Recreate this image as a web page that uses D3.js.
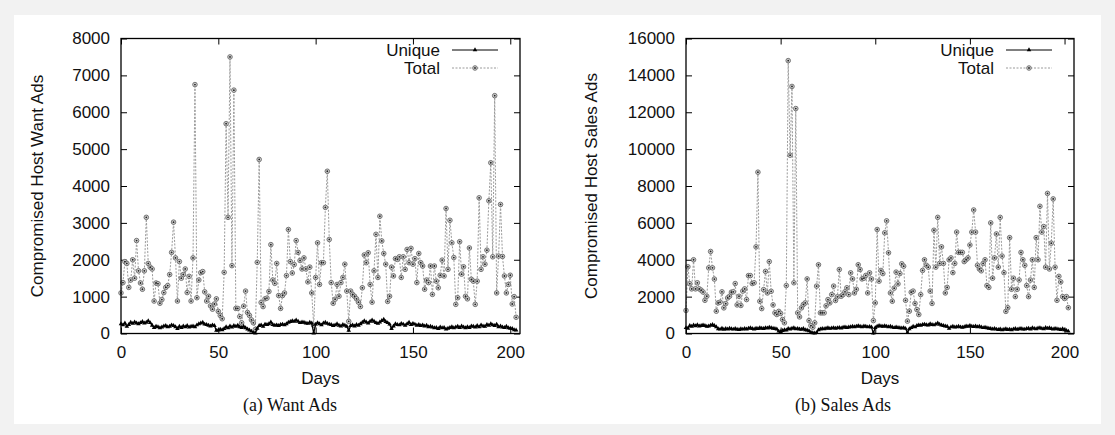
<!DOCTYPE html>
<html>
<head>
<meta charset="utf-8">
<script src="https://cdn.jsdelivr.net/npm/d3@7"></script>
<style>
  html, body { margin: 0; padding: 0; background: #f2f2f2; }
  svg { display: block; }
  text { font-family: "Liberation Sans", Arial, sans-serif; fill: #111; }
  .caption { font-family: "Liberation Serif", "Times New Roman", serif; }
</style>
</head>
<body>
<svg id="chart" width="1115" height="435"></svg>
<script>
// ---------- data (day index = position in array) ----------
const xTicks = [0, 50, 100, 150, 200];
const wantYTicks = [0, 1000, 2000, 3000, 4000, 5000, 6000, 7000, 8000];
const salesYTicks = [0, 2000, 4000, 6000, 8000, 10000, 12000, 14000, 16000];
const seriesNames = ["Unique", "Total"];
const captions = ["(a) Want Ads", "(b) Sales Ads"];
const yTitles = ["Compromised Host Want Ads", "Compromised Host Sales Ads"];

const wantTotal = [
  1100,1380,1950,1900,1250,1450,2000,1500,2520,1700,1370,1200,1700,3150,1900,1800,1750,880,1370,1350,
  820,920,1110,1250,1300,1600,2200,3020,2050,880,1950,1500,1600,1750,1110,1550,880,2050,6750,
  970,1450,1650,1680,1130,880,1010,750,660,800,940,600,490,400,1660,5690,3150,7500,1840,6600,680,
  680,460,290,740,1150,570,490,370,290,110,1930,4720,840,730,940,960,1140,2410,1450,1360,1900,1030,680,1030,1100,1570,
  2820,1950,1640,1870,2520,2200,1980,1750,2050,1750,1400,1800,1100,220,
  1520,2460,1330,1920,1920,3420,4400,2550,1380,820,930,1330,1010,1380,1520,1880,1150,330,
  1150,1060,1010,940,850,730,1240,2130,1920,2190,1330,850,1700,2690,1520,3180,2510,2170,1880,870,1010,1800,1560,2030,2010,2080,1520,2080,1740,2280,1920,2310,1880,
  2030,1380,2170,1920,1830,1200,1450,1380,1830,1060,1830,1420,1240,1580,1990,1560,3390,1740,3070,2460,
  2060,790,970,2490,1610,1810,1010,940,2320,1470,1420,790,1420,3680,1740,2080,1880,2260,3600,4630,
  2080,6450,1100,2100,3500,2090,1560,1100,1330,1580,800,1000,440
];
const wantUnique = [
  260,230,280,190,240,300,270,310,280,260, 290,320,280,300,340,290,220,160,190,180,
  150,170,200,210,180,190,230,210,180,130, 190,160,200,180,210,170,190,200,180,230,
  260,280,300,250,240,220,200,230,210,80, 90,110,100,130,180,150,200,170,210,190,
  220,180,160,190,150,120,90,60,20,10, 140,210,230,190,250,240,260,310,240,220,
  230,210,240,250,230,260,300,320,340,330, 360,330,290,310,300,280,270,300,280,10,
  250,290,260,230,280,300,270,250,240,210, 230,260,220,200,240,220,190,80,210,230,
  200,240,220,260,300,340,310,280,330,360, 330,290,270,310,350,380,320,290,250,130,
  200,260,240,230,270,250,220,260,300,240, 270,250,220,240,210,230,200,220,180,190,
  170,150,160,130,170,150,160,120,140,160, 180,150,170,190,160,200,170,150,180,160,
  200,190,170,210,180,230,200,190,240,220, 260,230,210,250,180,200,170,160,190,150,
  140,130,100,90
];
const salesTotal = [
  1250,3620,2700,2420,4000,2420,2750,2420,2350,2250,1800,2020,3560,4450,3560,2950,1210,1660,1700,2260,
  1390,1620,1930,2020,2240,2260,2710,1550,2020,1520,2300,2420,1840,3140,3140,2710,2750,4700,8750,
  1750,1350,2380,3370,2200,3900,2290,1550,1120,1030,1200,1090,760,580,2600,
  14800,9670,13400,2750,12200,
  1120,900,1390,1570,1660,2960,700,430,340,580,2570,
  3730,1120,1120,1120,1500,1840,1660,2110,2570,1790,1990,3470,2020,2110,2260,2480,2110,3290,2960,2200,
  2400,3730,3470,2960,3000,3150,2200,3290,2960,700,1660,5640,
  2840,3420,3250,5460,6110,4380,2200,1750,2460,3330,2690,3250,3780,3650,1800,670,1210,2240,2300,1630,
  1300,1030,2110,3420,4000,3700,3600,2300,1630,
  5600,3600,6300,3800,4700,3800,2200,2500,4000,4100,3300,3800,5500,4400,4400,4400,3900,4000,4100,4800,
  5500,6700,5500,3700,3500,3400,3800,4000,2600,2500,6000,3000,4100,5400,3600,6300,4200,3300,1200,1400,
  5200,2400,3000,2000,2400,2900,4400,4000,3700,2600,2000,2900,4000,2500,5200,4000,6900,5500,5800,3600,
  7600,3500,4900,7300,3600,1800,3100,2800,2000,1900,2000,1400
];
const salesUnique = [
  310,280,420,380,450,410,470,400,430,460, 420,380,400,440,480,420,360,250,230,280,
  220,260,240,280,250,230,260,220,210,250, 230,270,240,280,300,260,240,280,260,300,
  280,260,310,290,330,300,280,260,240,120, 100,150,200,180,260,240,280,300,250,270,
  240,220,260,200,180,140,60,30,20,40, 200,240,260,250,280,300,270,290,310,280,
  300,320,290,330,350,320,340,360,380,360, 390,410,380,360,400,380,350,370,340,20,
  320,380,420,400,380,410,390,360,380,340, 310,340,320,300,290,310,270,40,250,310,
  380,350,420,460,440,480,500,470,450,520, 480,460,510,560,490,450,430,400,380,270,
  350,380,340,360,380,350,330,360,400,380, 420,390,370,400,360,380,340,310,330,300,
  280,260,240,270,230,210,240,190,220,250, 210,230,200,240,260,220,250,270,240,230,
  260,280,240,300,270,250,290,310,270,250, 320,280,300,260,240,270,250,230,210,250,
  190,160,120
];

// ---------- drawing ----------
const svg = d3.select("#chart");
svg.append("rect").attr("x", 0).attr("y", 0).attr("width", 1115).attr("height", 435).attr("fill", "#f2f2f2");
svg.append("rect").attr("x", 14).attr("y", 15).attr("width", 1087).attr("height", 409).attr("fill", "#ffffff");

const panels = [
  { left: 121, right: 520, ymax: 8000, yTicks: wantYTicks, total: wantTotal, unique: wantUnique,
    title: yTitles[0], titleX: 37, caption: captions[0], captionX: 290 },
  { left: 686, right: 1074, ymax: 16000, yTicks: salesYTicks, total: salesTotal, unique: salesUnique,
    title: yTitles[1], titleX: 591, caption: captions[1], captionX: 843 }
];
const plotTop = 38.5, plotBottom = 333.5;
const FS = 17;

panels.forEach(p => {
  const g = svg.append("g");
  const x = d3.scaleLinear().domain([0, 205]).range([p.left, p.right]);
  const y = d3.scaleLinear().domain([0, p.ymax]).range([plotBottom, plotTop]);

  const tick = 6;
  const ax = (axis, tr, labels) => {
    const a = g.append("g").attr("transform", tr).call(axis);
    a.select(".domain").remove();
    a.selectAll("line").attr("stroke", "#000").attr("stroke-width", 1);
    a.selectAll("text").attr("font-size", FS).attr("fill", "#111")
      .style("font-family", '"Liberation Sans", Arial, sans-serif');
    if (!labels) a.selectAll("text").remove();
    return a;
  };
  ax(d3.axisLeft(y).tickValues(p.yTicks).tickSize(-tick).tickPadding(11).tickFormat(d3.format("d")),
     `translate(${p.left},0)`, true);
  ax(d3.axisRight(y).tickValues(p.yTicks).tickSize(-tick), `translate(${p.right},0)`, false);
  ax(d3.axisBottom(x).tickValues(xTicks).tickSize(-tick).tickPadding(12).tickFormat(d3.format("d")),
     `translate(0,${plotBottom})`, true);
  ax(d3.axisTop(x).tickValues(xTicks).tickSize(-tick), `translate(0,${plotTop})`, false);

  const line = d3.line().x((d, i) => x(i)).y(d => y(d));
  g.append("path").datum(p.total).attr("d", line)
    .attr("fill", "none").attr("stroke", "#9a9a9a").attr("stroke-width", 1)
    .attr("stroke-dasharray", "2,1.5");
  const tg = g.append("g");
  tg.selectAll("circle.o").data(p.total).join("circle").attr("class", "o")
    .attr("cx", (d, i) => x(i)).attr("cy", d => y(d)).attr("r", 2.3)
    .attr("fill", "#d0d0d0").attr("stroke", "#6a6a6a").attr("stroke-width", 0.9);
  tg.selectAll("circle.c").data(p.total).join("circle").attr("class", "c")
    .attr("cx", (d, i) => x(i)).attr("cy", d => y(d)).attr("r", 0.9).attr("fill", "#222");

  g.append("path").datum(p.unique).attr("d", line)
    .attr("fill", "none").attr("stroke", "#000").attr("stroke-width", 1.3);
  const tri = d3.symbol().type(d3.symbolTriangle).size(9);
  g.append("g").selectAll("path").data(p.unique).join("path")
    .attr("d", tri).attr("transform", (d, i) => `translate(${x(i)},${y(d)})`).attr("fill", "#000");

  g.append("rect").attr("x", p.left).attr("y", plotTop).attr("width", p.right - p.left).attr("height", plotBottom - plotTop)
    .attr("fill", "none").attr("stroke", "#000").attr("stroke-width", 1.3);

  const lgX = p.right - 80, sx0 = p.right - 68, sx1 = p.right - 22;
  const lg = g.append("g");
  lg.append("text").attr("x", lgX).attr("y", 56).attr("text-anchor", "end").attr("font-size", FS).text(seriesNames[0]);
  lg.append("text").attr("x", lgX).attr("y", 74).attr("text-anchor", "end").attr("font-size", FS).text(seriesNames[1]);
  lg.append("line").attr("x1", sx0).attr("x2", sx1).attr("y1", 50).attr("y2", 50).attr("stroke", "#000").attr("stroke-width", 1);
  lg.append("path").attr("d", tri).attr("transform", `translate(${(sx0 + sx1) / 2},50)`).attr("fill", "#000");
  lg.append("line").attr("x1", sx0).attr("x2", sx1).attr("y1", 68).attr("y2", 68).attr("stroke", "#9a9a9a")
    .attr("stroke-width", 1).attr("stroke-dasharray", "2,1.5");
  lg.append("circle").attr("cx", (sx0 + sx1) / 2).attr("cy", 68).attr("r", 2.3).attr("fill", "#d0d0d0").attr("stroke", "#6a6a6a").attr("stroke-width", 0.9);
  lg.append("circle").attr("cx", (sx0 + sx1) / 2).attr("cy", 68).attr("r", 0.9).attr("fill", "#222");

  g.append("text").attr("x", (p.left + p.right) / 2).attr("y", 384).attr("text-anchor", "middle")
    .attr("font-size", FS).text("Days");
  g.append("text").attr("transform", `translate(${p.titleX},${(plotTop + plotBottom) / 2}) rotate(-90)`)
    .attr("text-anchor", "middle").attr("dominant-baseline", "central").attr("font-size", FS).text(p.title);
  g.append("text").attr("class", "caption").attr("x", p.captionX).attr("y", 411).attr("text-anchor", "middle")
    .attr("font-size", 18).text(p.caption);
});
</script>
</body>
</html>
